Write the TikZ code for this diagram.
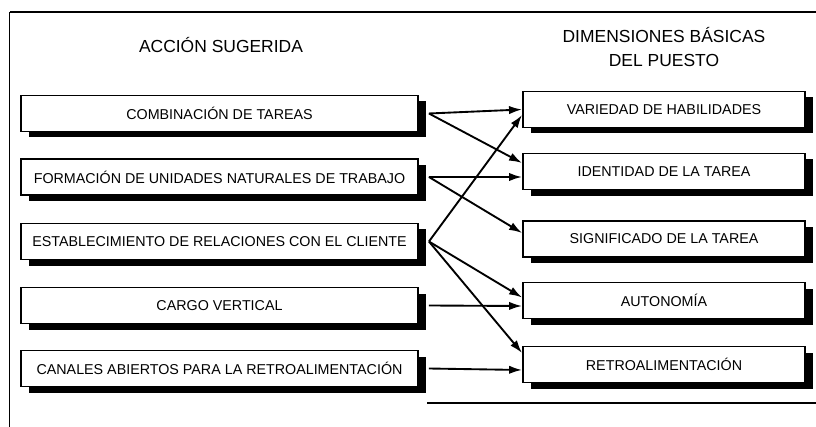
\documentclass[tikz,border=0pt]{standalone}
\usepackage{fontspec}
\setmainfont{Liberation Sans}
\usetikzlibrary{shadows,arrows.meta,positioning}
\tikzset{
	accion/.style={draw, line width=1.6pt, fill=white, minimum width=11.91cm, minimum height=1.08cm, inner sep=0pt, font=\fontsize{12.2}{14}\selectfont, drop shadow={shadow xshift=2.4mm, shadow yshift=-1.8mm, fill=black, opacity=1}},
	dimension/.style={accion, minimum width=8.46cm},
	titulo/.style={font=\fontsize{14.9}{21}\selectfont, align=center},
	flecha/.style={line width=1.6pt, -{Latex[length=3.9mm,width=2.5mm]}}
}

\begin{document}
\begin{tikzpicture}[x=0.03cm, y=-0.03cm]
	\useasboundingbox (0,0) rectangle (816,427);
	% marco
	\draw[line width=1.8pt] (10,12) -- (816,12);
	\draw[line width=1.5pt] (9.5,12) -- (9.5,427);
	\draw[line width=1.5pt] (427,403) -- (816,403);

	\node[titulo] (titacc) at (221,45) {ACCIÓN SUGERIDA};
	\node[titulo] (titdim) at (664,47) {DIMENSIONES BÁSICAS\\DEL PUESTO};

	\node[accion] (combina) at (219.5,113.5) {COMBINACIÓN DE TAREAS};
	\node[accion] (unidades) at (219.5,177) {FORMACIÓN DE UNIDADES NATURALES DE TRABAJO};
	\node[accion] (cliente) at (219.5,241.5) {ESTABLECIMIENTO DE RELACIONES CON EL CLIENTE};
	\node[accion] (cargo) at (219.5,305.5) {CARGO VERTICAL};
	\node[accion] (canales) at (219.5,368.5) {CANALES ABIERTOS PARA LA RETROALIMENTACIÓN};

	\node[dimension] (variedad) at (664,109.5) {VARIEDAD DE HABILIDADES};
	\node[dimension] (identidad) at (664,171.5) {IDENTIDAD DE LA TAREA};
	\node[dimension] (significado) at (664,239) {SIGNIFICADO DE LA TAREA};
	\node[dimension] (autonomia) at (664,300.5) {AUTONOMÍA};
	\node[dimension] (retro) at (664,364.5) {RETROALIMENTACIÓN};

	\draw[flecha] ([xshift=3mm]combina.east) -- (variedad.west);
	\draw[flecha] ([xshift=3mm]combina.east) -- ([yshift=2.55mm]identidad.west);
	\draw[flecha] ([xshift=3mm]unidades.east) -- ([yshift=-1.65mm]identidad.west);
	\draw[flecha] ([xshift=3mm]unidades.east) -- ([yshift=1.8mm]significado.west);
	\draw[flecha] ([xshift=3mm]cliente.east) -- ([yshift=-1.65mm]variedad.west);
	\draw[flecha] ([xshift=3mm]cliente.east) -- ([yshift=0.9mm]autonomia.west);
	\draw[flecha] ([xshift=3mm]cliente.east) -- ([yshift=3.45mm]retro.west);
	\draw[flecha] ([xshift=3mm]cargo.east) -- ([yshift=-1.65mm]autonomia.west);
	\draw[flecha] ([xshift=3mm]canales.east) -- ([yshift=-1.65mm]retro.west);
\end{tikzpicture}
\end{document}
